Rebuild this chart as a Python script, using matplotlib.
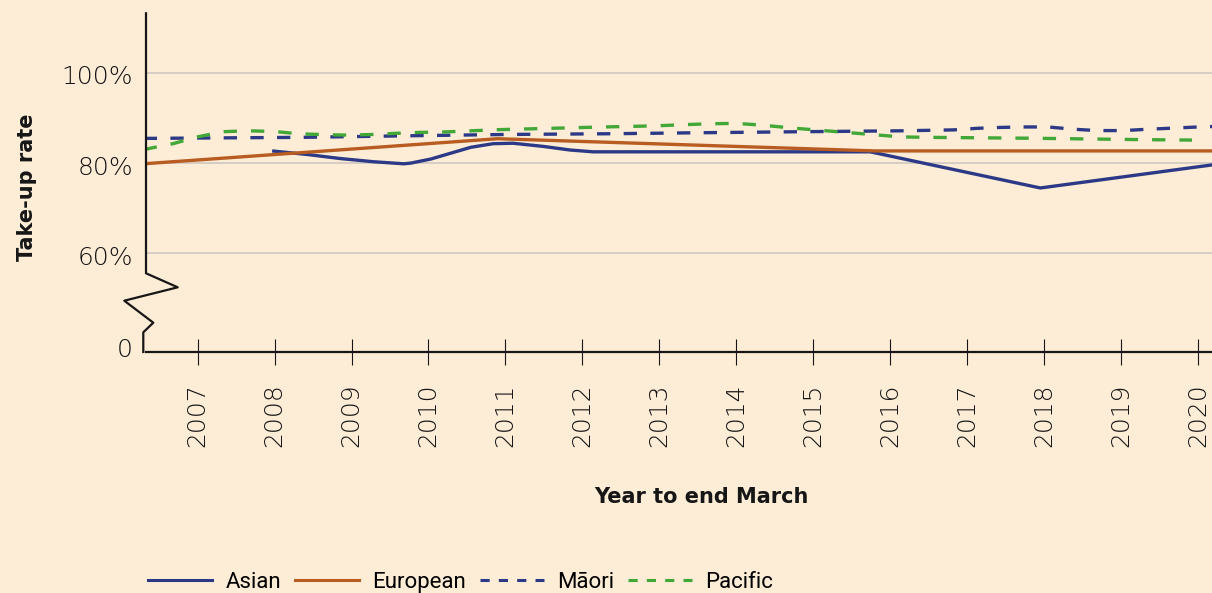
import matplotlib.pyplot as plt
from matplotlib.lines import Line2D

# x axis years
years = list(range(2007, 2021))

# Asian (solid navy)
asian_x = [2007.99, 2008.43, 2008.86, 2009.29, 2009.68, 2009.77, 2010.03, 2010.29,
           2010.55, 2010.84, 2011.1, 2011.49, 2011.84, 2012.14, 2015.74, 2017.95, 2020.18]
asian_y = [82.66, 81.9, 81.0, 80.3, 79.85, 80.0, 80.9, 82.2,
           83.5, 84.3, 84.4, 83.7, 82.9, 82.5, 82.5, 74.5, 79.6]

# European (solid orange)
european_x = [2006.3, 2010.9, 2015.8, 2020.2]
european_y = [79.85, 85.4, 82.7, 82.7]

# Maori (dashed navy)
maori_x = [2006.3, 2008.34, 2009.73, 2011.06, 2012.36, 2013.4, 2014.79, 2016.13, 2016.82,
           2017.13, 2017.43, 2017.75, 2018.05, 2018.38, 2018.69, 2019.03, 2019.35, 2019.68,
           2020.0, 2020.2]
maori_y = [85.47, 85.7, 86.05, 86.35, 86.5, 86.7, 86.94, 87.15, 87.35,
           87.7, 87.9, 88.0, 88.0, 87.5, 87.2, 87.2, 87.5, 87.75,
           88.0, 88.1]

# Pacific (dashed green)
pacific_x = [2006.3, 2006.68, 2007.0, 2007.32, 2007.66, 2008.0, 2008.31, 2008.64, 2008.96,
             2009.3, 2009.58, 2009.9, 2010.21, 2010.55, 2010.9, 2011.58, 2012.27, 2012.96,
             2013.3, 2013.64, 2013.99, 2014.34, 2014.7, 2015.06, 2015.42, 2015.78, 2016.14,
             2016.49, 2017.87, 2019.25, 2019.92]
pacific_y = [83.0, 84.3, 85.8, 86.95, 87.15, 87.0, 86.5, 86.3, 86.2,
             86.35, 86.6, 86.8, 86.9, 87.15, 87.4, 87.7, 88.0, 88.25,
             88.5, 88.7, 88.8, 88.4, 87.8, 87.3, 86.8, 86.3, 85.8,
             85.7, 85.5, 85.2, 85.1]

# y ticks (the "0" sits just above the axis break)
ytick_pos = [39.7, 60, 80, 100]
ytick_labels = ['0', '60%', '80%', '100%']
grid_vals = [60, 80, 100]

bg = '#fdecd6'
navy = '#2b3986'
orange = '#b85c22'
green = '#41a737'
ink = '#161616'

W, H = 1212, 593
fig = plt.figure(figsize=(W / 100, H / 100), dpi=100, facecolor=bg)
ax = fig.add_axes([146 / W, 1 - 352 / H, 1 - 146 / W, (352 - 14) / H])
ax.set_facecolor(bg)

for g in grid_vals:
    ax.axhline(g, color='#cbc6bf', lw=1.1, zorder=1)

ax.plot(asian_x, asian_y, color=navy, lw=2.4, zorder=3)
ax.plot(european_x, european_y, color=orange, lw=2.4, zorder=3)
ax.plot(maori_x, maori_y, color=navy, lw=2.4, dashes=(4, 4), zorder=3)
ax.plot(pacific_x, pacific_y, color=green, lw=2.4, dashes=(4, 4.2), zorder=3)

ax.set_xlim(2006.33, 2020.18)
ax.set_ylim(38.2, 113.0)

for s in ['top', 'right', 'left']:
    ax.spines[s].set_visible(False)
ax.spines['bottom'].set_linewidth(1.6)
ax.spines['bottom'].set_color(ink)

tick_font = {'family': 'DejaVu Sans', 'weight': 'light', 'size': 18}

ax.set_xticks(years)
ax.set_xticklabels([str(y) for y in years], rotation=90, va='top', ha='center',
                   color='#111111', **tick_font)
ax.tick_params(axis='x', direction='inout', length=19, width=0.8, pad=13, colors=ink)
ax.set_yticks([])

# y tick labels drawn next to the broken axis
for pos, lab in zip(ytick_pos, ytick_labels):
    ax.text(-0.012, pos - 1.0, lab, transform=ax.get_yaxis_transform(),
            ha='right', va='center', color='#111111', **tick_font)

# left axis with zigzag break
pts = [(143.3, 352), (143.3, 332.3), (153.3, 322.7), (124.3, 300.7),
       (177.7, 287.3), (146, 273.3), (146, 13.3)]
fig.add_artist(Line2D([p[0] / W for p in pts], [1 - p[1] / H for p in pts],
                      transform=fig.transFigure, color=ink, lw=1.6))

fig.text(27 / W, 1 - 187 / H, 'Take-up rate', rotation=90, ha='center', va='center',
         fontsize=15, family='DejaVu Sans', fontweight='bold', color=ink)
fig.text(701 / W, 1 - 497 / H, 'Year to end March', ha='center', va='center',
         fontsize=15, family='DejaVu Sans', fontweight='bold', color=ink)

handles = [Line2D([], [], color=navy, lw=2.2),
           Line2D([], [], color=orange, lw=2.2),
           Line2D([], [], color=navy, lw=2.2, dashes=(3, 3)),
           Line2D([], [], color=green, lw=2.2, dashes=(3, 3))]
fig.legend(handles, ['Asian', 'European', 'Māori', 'Pacific'], loc='lower left',
           bbox_to_anchor=(148 / W, 0.0), ncol=4, frameon=False,
           handlelength=2.9, handletextpad=0.6, columnspacing=0.6,
           borderaxespad=0, borderpad=0,
           prop={'family': 'Roboto', 'size': 16})

fig.savefig('out.png', dpi=100, facecolor=bg)
